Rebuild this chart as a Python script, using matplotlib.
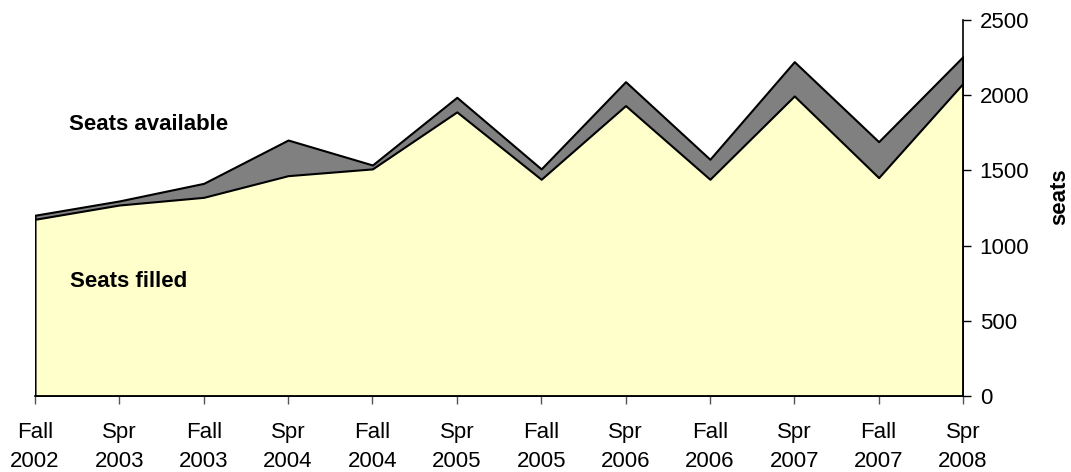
import numpy as np
import matplotlib
matplotlib.use("Agg")
import matplotlib.pyplot as plt

plt.rcParams['font.family'] = ['Liberation Sans', 'DejaVu Sans']

terms = ['Fall\n2002', 'Spr\n2003', 'Fall\n2003', 'Spr\n2004', 'Fall\n2004', 'Spr\n2005',
         'Fall\n2005', 'Spr\n2006', 'Fall\n2006', 'Spr\n2007', 'Fall\n2007', 'Spr\n2008']
seats_available = [1202, 1297, 1414, 1702, 1536, 1986, 1510, 2090, 1574, 2223, 1691, 2257]
seats_filled = [1175, 1270, 1321, 1465, 1510, 1889, 1441, 1931, 1441, 1995, 1452, 2079]

x = np.arange(len(terms))

fig = plt.figure(figsize=(10.71, 4.72), dpi=100)
ax = fig.add_axes([35 / 1071, 1 - 396 / 472, 928 / 1071, 376 / 472])

# gray area behind, yellow in front
ax.fill_between(x, 0, seats_available, facecolor='#808080', edgecolor='black', linewidth=1.5, zorder=2)
ax.fill_between(x, 0, seats_filled, facecolor='#FFFFCC', edgecolor='black', linewidth=1.5, zorder=3)

ax.set_xlim(0, len(terms) - 1)
ax.set_ylim(0, 2500)
ax.set_xticks(x)
ax.set_xticklabels(terms, fontsize=16, linespacing=1.5)
ax.set_yticks(np.arange(0, 2501, 500))

ax.yaxis.tick_right()
ax.yaxis.set_label_position('right')
ax.set_ylabel('seats', fontsize=16, fontweight='bold', labelpad=14)
ax.yaxis.label.set_y(0.53)
ax.tick_params(axis='y', labelsize=16, direction='out', length=6, pad=6, width=1)
ax.tick_params(axis='x', direction='out', length=6, pad=13, width=1, color='#555555')

ax.spines['top'].set_visible(False)
ax.spines['left'].set_visible(False)
ax.spines['right'].set_linewidth(1.2)
ax.spines['bottom'].set_linewidth(1.2)
for s in ax.spines.values():
    s.set_zorder(5)

ax.text(0.4, 1802, 'Seats available', fontsize=16, fontweight='bold', va='center', zorder=6)
ax.text(0.42, 758, 'Seats filled', fontsize=16, fontweight='bold', va='center', zorder=6)

fig.savefig('out.png', dpi=100)
